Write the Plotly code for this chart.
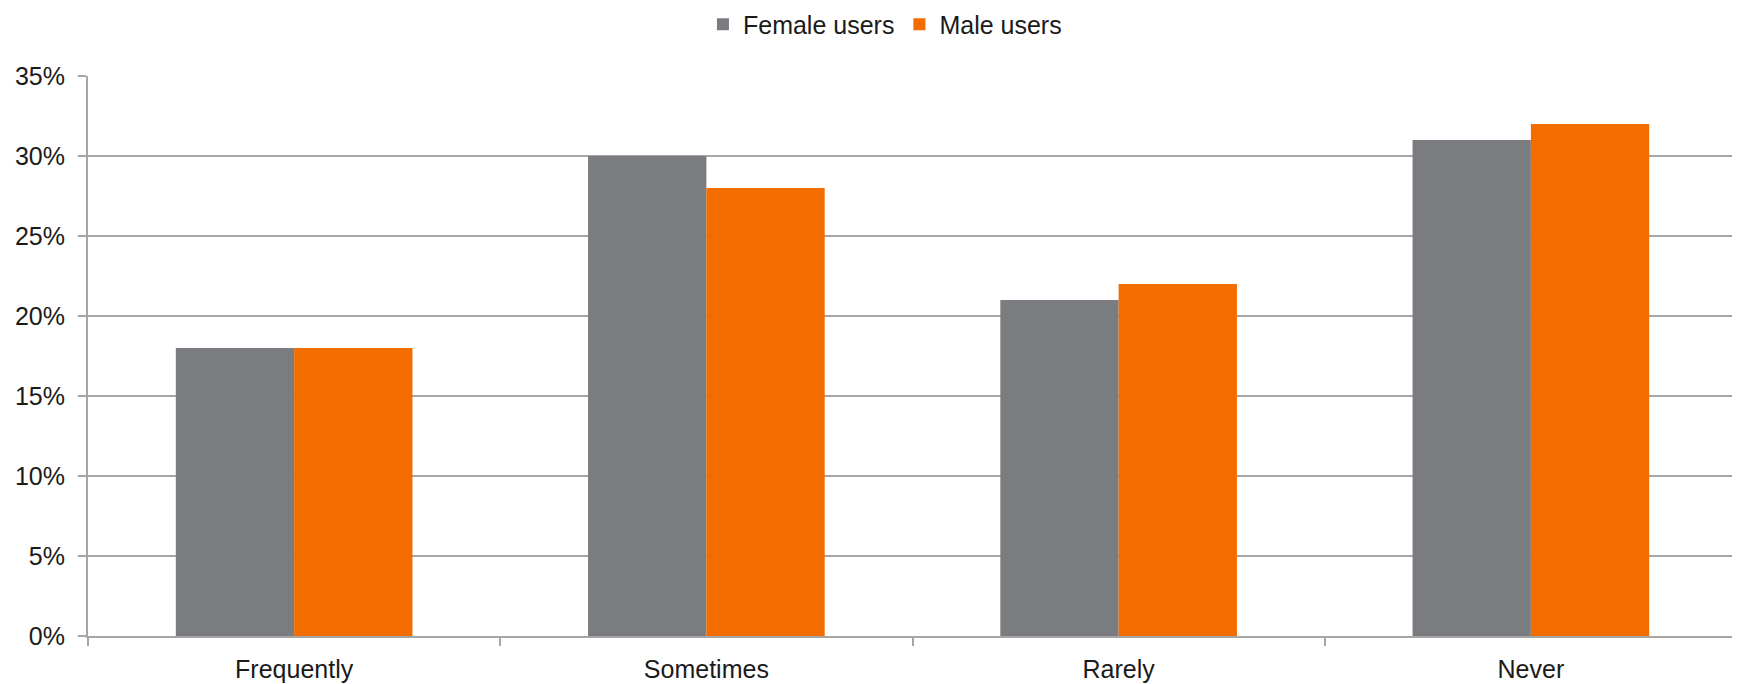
import plotly.graph_objects as go

categories = ["Frequently", "Sometimes", "Rarely", "Never"]
female_users = [0.18, 0.30, 0.21, 0.31]
male_users = [0.18, 0.28, 0.22, 0.32]
y_ticks = [0, 0.05, 0.10, 0.15, 0.20, 0.25, 0.30, 0.35]
y_tick_labels = ["0%", "5%", "10%", "15%", "20%", "25%", "30%", "35%"]

FONT = "Liberation Sans, Arial, sans-serif"

fig = go.Figure()
fig.add_trace(go.Bar(name="Female users", x=categories, y=female_users,
                     marker=dict(color="#7b7c80", line=dict(width=0))))
fig.add_trace(go.Bar(name="Male users", x=categories, y=male_users,
                     marker=dict(color="#f26c00", line=dict(width=0))))

fig.update_layout(
    width=1740, height=684,
    margin=dict(l=80, r=11, t=68, b=56, autoexpand=False),
    paper_bgcolor="white", plot_bgcolor="white",
    barmode="group", bargap=0.426, bargroupgap=0,
    font=dict(family=FONT, size=25, color="#1a1a1a"),
    legend=dict(orientation="h", xref="container", x=0.504, xanchor="center",
                yref="container", y=0.976, yanchor="middle", borderwidth=0,
                font=dict(size=25), itemwidth=30, traceorder="normal"),
    showlegend=True,
)
fig.update_xaxes(
    showline=True, linecolor="#a6a6a6", linewidth=2,
    ticks="outside", tickson="boundaries", ticklen=8, tickcolor="#a6a6a6", tickwidth=2,
    showgrid=False, range=[-0.5, 3.5], tickfont=dict(size=25), ticklabelstandoff=10,
)
fig.update_yaxes(
    range=[0, 0.35], tickvals=y_ticks, ticktext=y_tick_labels,
    showline=True, linecolor="#a6a6a6", linewidth=2,
    showgrid=True, gridcolor="#a6a6a6", gridwidth=2,
    ticks="outside", ticklen=8, tickcolor="#a6a6a6", tickwidth=2,
    zeroline=False, tickfont=dict(size=25), ticklabelstandoff=8,
)

fig.write_html("out.html")
